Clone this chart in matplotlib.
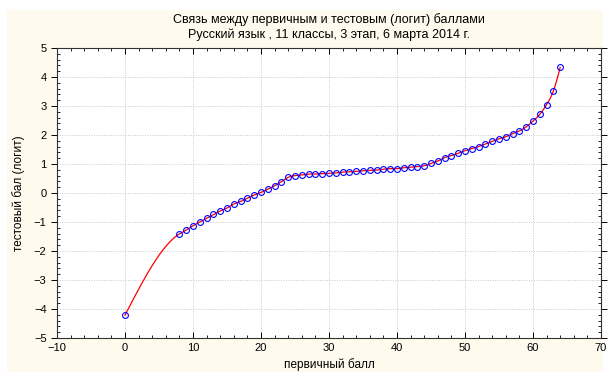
import numpy as np
import matplotlib
matplotlib.use("Agg")
from matplotlib import pyplot as plt
from matplotlib.patches import Rectangle
from matplotlib.ticker import MultipleLocator

plt.rcParams['font.family'] = ['Liberation Sans', 'DejaVu Sans']

# primary score vs test score (logit)
raw_score = [0] + list(range(8, 65))
logit = [-4.21,
         -1.41, -1.28, -1.13, -1.00, -0.87, -0.74, -0.62, -0.52, -0.38, -0.29,
         -0.18, -0.07, 0.02, 0.13, 0.25, 0.39, 0.54, 0.60, 0.62, 0.65,
         0.655, 0.67, 0.68, 0.69, 0.72, 0.73, 0.75, 0.77, 0.78, 0.79,
         0.82, 0.84, 0.84, 0.87, 0.885, 0.91, 0.94, 1.02, 1.10, 1.22,
         1.29, 1.37, 1.46, 1.53, 1.60, 1.69, 1.78, 1.87, 1.94, 2.05,
         2.14, 2.28, 2.48, 2.71, 3.05, 3.52, 4.33]

title = "Связь между первичным и тестовым (логит) баллами\nРусский язык , 11 классы, 3 этап, 6 марта 2014 г."
xlab = "первичный балл"
ylab = "тестовый бал (логит)"


def natural_spline(x, y, n=600):
    # smooth line through the points (natural cubic spline)
    x = np.asarray(x, float)
    y = np.asarray(y, float)
    k = len(x)
    h = np.diff(x)
    A = np.zeros((k, k))
    b = np.zeros(k)
    A[0, 0] = 1
    A[-1, -1] = 1
    for i in range(1, k - 1):
        A[i, i - 1] = h[i - 1]
        A[i, i] = 2 * (h[i - 1] + h[i])
        A[i, i + 1] = h[i]
        b[i] = 6 * ((y[i + 1] - y[i]) / h[i] - (y[i] - y[i - 1]) / h[i - 1])
    M = np.linalg.solve(A, b)
    xs = np.linspace(x[0], x[-1], n)
    j = np.clip(np.searchsorted(x, xs) - 1, 0, k - 2)
    t0 = x[j + 1] - xs
    t1 = xs - x[j]
    hj = h[j]
    ys = (M[j] * t0 ** 3 + M[j + 1] * t1 ** 3) / (6 * hj) \
        + (y[j] / hj - M[j] * hj / 6) * t0 + (y[j + 1] / hj - M[j + 1] * hj / 6) * t1
    return xs, ys


fig = plt.figure(figsize=(6.08, 3.74), dpi=100)
fig.patches.append(Rectangle((7 / 608, 2 / 374), 596 / 608, 362 / 374,
                             transform=fig.transFigure, facecolor='#fefaee',
                             edgecolor='none', zorder=-10))
ax = fig.add_axes([57 / 608, 36 / 374, 544 / 608, 290 / 374])
ax.set_facecolor('white')

xs, ys = natural_spline(raw_score, logit)
ax.plot(xs, ys, color='red', lw=0.9, zorder=3)
ax.plot(raw_score, logit, 'o', ms=4.2, mfc='none', mec='blue', mew=0.8, zorder=4)

ax.set_xlim(-10, 70)
ax.set_ylim(-5, 5)
ax.xaxis.set_major_locator(MultipleLocator(10))
ax.xaxis.set_minor_locator(MultipleLocator(2))
ax.yaxis.set_major_locator(MultipleLocator(1))
ax.yaxis.set_minor_locator(MultipleLocator(0.2))
ax.grid(True, which='major', ls=(0, (1, 1.5)), color='#c8c8c8', lw=0.7)
ax.tick_params(which='both', direction='in', top=True, right=True, labelsize=8, colors='black')
ax.tick_params(which='major', length=4, width=0.7)
ax.tick_params(which='minor', length=2, width=0.6)
ax.tick_params(axis='y', which='major', direction='out', left=True)
for s in ax.spines.values():
    s.set_linewidth(0.8)
    s.set_color('#333333')

ax.set_xlabel(xlab, fontsize=8.5, labelpad=4)
ax.set_ylabel(ylab, fontsize=8.5, labelpad=6)
fig.text(0.5 * (57 + 601) / 608, 1 - 27 / 374, title, ha='center', va='center',
         fontsize=9, linespacing=1.2)

fig.savefig('out.png', dpi=100)
